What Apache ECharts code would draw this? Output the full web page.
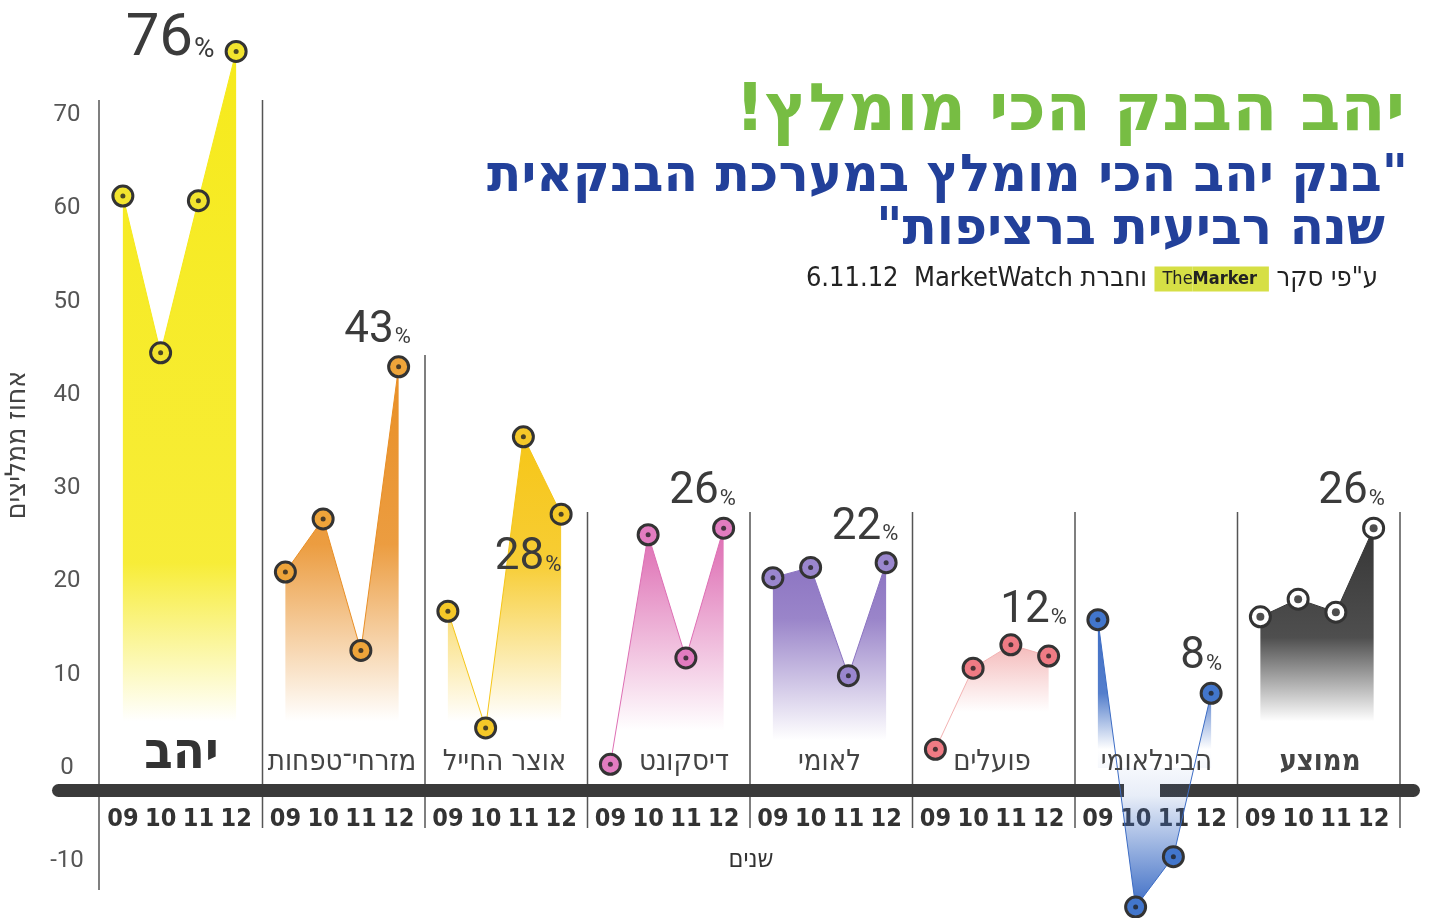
<!DOCTYPE html>
<html>
<head>
<meta charset="utf-8">
<title>יהב הבנק הכי מומלץ</title>
<script src="https://cdn.jsdelivr.net/npm/echarts@6/dist/echarts.min.js"></script>
<style>
  html, body { margin: 0; padding: 0; background: #fff; }
  #chart { width: 1433px; height: 918px; }
</style>
</head>
<body>
<div id="chart"></div>
<script>
// data (percent of respondents recommending, 2009-2012)
const years = ['09', '10', '11', '12']
const banks = ['יהב', 'מזרחי־טפחות', 'אוצר החייל', 'דיסקונט', 'לאומי', 'פועלים', 'הבינלאומי', 'ממוצע']
const yahav = [61.3, 44.5, 60.8, 76.8]
const mizrahi = [21.0, 26.7, 12.6, 43.0]
const otzar = [16.8, 4.3, 35.5, 27.2]
const discount = [0.4, 25.0, 11.8, 25.7]
const leumi = [20.4, 21.5, 9.9, 22.0]
const poalim = [2.0, 10.7, 13.2, 12.0]
const bainleumi = [15.9, -14.9, -9.5, 8.0]
const average = [16.2, 18.1, 16.7, 25.7]
const lastLabels = [76, 43, 28, 26, 22, 12, 8, 26]
const yTicks = [-10, 0, 10, 20, 30, 40, 50, 60, 70]

const values = [yahav, mizrahi, otzar, discount, leumi, poalim, bainleumi, average]

// look of each panel
const looks = [
  { area: '#f6ea1c', marker: '#f2e42e', solid: 22, fade: 5 },
  { area: '#e98f26', marker: '#eea43a', solid: 24, fade: 5 },
  { area: '#f6c618', marker: '#f5c828', solid: 22, fade: 5 },
  { area: '#de6fb4', marker: '#e27cc0', solid: 22, fade: 4 },
  { area: '#8c74c2', marker: '#9a86ce', solid: 16, fade: 3 },
  { area: '#f3b3b3', marker: '#ef7b84', solid: 13, fade: 6 },
  { area: '#3d6dc5', marker: '#4276cc', solid: 8, fade: 2 },
  { area: '#363636', marker: '#ffffff', solid: 14, fade: 5 },
]
// where the big "NN%" sits against the last point
const pctOffset = [[-66, -11], [-21, -36], [-33, 44], [-21, -36], [-21, -35], [-15, -45], [-10, -36], [-22, -36]]

const PANEL_X0 = 100
const PANEL_W = 162.5
const GRID_TOP = 21.6
const GRID_H = 933
const Y_MIN = -20
const Y_MAX = 80
// distance from the grid bottom up to the zero line, so the year labels hang under y=0
const ZERO_LIFT = GRID_H * (0 - Y_MIN) / (Y_MAX - Y_MIN)
const COND = '"DejaVu Sans Condensed", "DejaVu Sans", sans-serif'
const NUM = 'Roboto, "DejaVu Sans", sans-serif'

const measure = document.createElement('canvas').getContext('2d')
function fitScale(text, font, width) {
  measure.font = font
  return width / measure.measureText(text).width
}

function areaFill(vals, look) {
  const top = Math.max(...vals)
  const bottom = Math.min(0, ...vals)
  const f = (v) => Math.min(1, Math.max(0, (top - v) / (top - bottom)))
  const c = (a) => echarts.color.modifyAlpha(look.area, a)
  const stops = [
    { offset: 0, color: c(1) },
    { offset: f(look.solid), color: c(0.88) },
    { offset: f(look.fade), color: c(0) },
  ]
  if (bottom < 0) {
    stops.push({ offset: f(-3), color: c(0.12) })
    stops.push({ offset: 1, color: c(1) })
  } else {
    stops.push({ offset: 1, color: c(0) })
  }
  return new echarts.graphic.LinearGradient(0, 0, 0, 1, stops)
}

const grids = []
const xAxes = []
const yAxes = []
const series = []

banks.forEach((name, i) => {
  const look = looks[i]
  const big = i === 0
  grids.push({
    left: PANEL_X0 + 4 + i * PANEL_W, width: 151, top: GRID_TOP, height: GRID_H,
    containLabel: false, outerBoundsMode: 'none',
  })
  xAxes.push({
    gridIndex: i,
    type: 'category',
    data: years,
    position: 'bottom',
    offset: -ZERO_LIFT,
    axisLine: { show: false, onZero: false },
    axisTick: { show: false },
    axisLabel: { interval: 0, margin: 39, fontFamily: COND, fontWeight: 'bold', fontSize: 25, color: '#333' },
  })
  yAxes.push({
    gridIndex: i,
    type: 'value',
    min: Y_MIN,
    max: Y_MAX,
    interval: 10,
    splitLine: { show: false },
    axisLine: { show: false },
    axisTick: { show: false },
    axisLabel: i === 0
      ? { align: 'center', margin: 37, fontFamily: NUM, fontSize: 24, color: '#555',
          formatter: (v) => (yTicks.includes(v) ? String(v) : '') }
      : { show: false },
  })
  series.push({
    type: 'line',
    xAxisIndex: i,
    yAxisIndex: i,
    symbol: 'circle',
    symbolSize: 20,
    showAllSymbol: true,
    lineStyle: { color: look.area, width: 1 },
    itemStyle: { color: look.marker, borderColor: '#333', borderWidth: 3 },
    areaStyle: { origin: 0, color: areaFill(values[i], look), opacity: 1 },
    data: values[i].map((v, j) => j === 3
      ? {
          value: v,
          label: {
            show: true,
            position: 'inside',
            align: 'center',
            verticalAlign: 'middle',
            offset: pctOffset[i],
            formatter: `{n|${lastLabels[i]}}{p|%}`,
            rich: {
              n: { fontFamily: NUM, fontSize: big ? 60 : 44, color: '#3b3b3b', verticalAlign: 'bottom' },
              p: { fontFamily: NUM, fontSize: big ? 28 : 22, color: '#3b3b3b', verticalAlign: 'bottom',
                   padding: [0, 0, big ? 6 : 4, 1] },
            },
          },
        }
      : v),
    z: 3,
  })
  series.push({
    type: 'scatter',
    xAxisIndex: i,
    yAxisIndex: i,
    symbolSize: i === 7 ? 8 : 5,
    itemStyle: { color: '#222' },
    silent: true,
    data: values[i],
    z: 5,
  })
})

const graphics = []
// main vertical axis line and the panel separators
graphics.push({ type: 'line', shape: { x1: 99, y1: 100, x2: 99, y2: 890 }, style: { stroke: '#555', lineWidth: 1.5 } })
const sepTop = [100, 355, 512, 512, 512, 512, 512, 512]
sepTop.forEach((t, i) => {
  const x = PANEL_X0 + (i + 1) * PANEL_W
  graphics.push({ type: 'line', shape: { x1: x, y1: t, x2: x, y2: 828 }, style: { stroke: '#555', lineWidth: 1.5 } })
})
// the thick dark bar with a break where הבינלאומי dips below
graphics.push({ type: 'rect', shape: { x: 52, y: 784, width: 1072, height: 13, r: [6.5, 0, 0, 6.5] }, style: { fill: '#3a3a3a' }, z: 1 })
graphics.push({ type: 'rect', shape: { x: 1160, y: 784, width: 260, height: 13, r: [0, 6.5, 6.5, 0] }, style: { fill: '#3a3a3a' }, z: 1 })

// bank names
const nameShift = [2, 0, 0, 17, 0, 0, 2, 3]
banks.forEach((name, i) => {
  const bold = i === 0 || i === 7
  graphics.push({
    type: 'text',
    x: PANEL_X0 + 4 + i * PANEL_W + 75.5 + nameShift[i],
    y: i === 0 ? 754 : 762,
    style: {
      text: name,
      font: i === 0 ? `bold 52px ${COND}` : `${bold ? 'bold ' : ''}29px ${COND}`,
      fill: i === 0 ? '#333' : '#444',
      align: 'center',
      verticalAlign: 'middle',
    },
    z: 10,
  })
})

// axis names
graphics.push({
  type: 'text', x: 18, y: 445, rotation: Math.PI / 2,
  style: { text: 'אחוז ממליצים', font: `28px ${COND}`, fill: '#444', align: 'center', verticalAlign: 'middle' },
})
graphics.push({
  type: 'text', x: 751, y: 860,
  style: { text: 'שנים', font: `25px ${COND}`, fill: '#333', align: 'center', verticalAlign: 'middle' },
})

// headline
const RLE = '\u202B'
const PDF = '\u202C'
const head = RLE + 'יהב הבנק הכי מומלץ!' + PDF
const headFont = 'bold 66px "DejaVu Sans", sans-serif'
graphics.push({
  type: 'text', x: 1405, y: 113, scaleX: fitScale(head, headFont, 670),
  style: { text: head, font: headFont, fill: '#77bd43', align: 'right', verticalAlign: 'middle' },
})
const sub1 = RLE + '"בנק יהב הכי מומלץ במערכת הבנקאית' + PDF
const sub2 = RLE + 'שנה רביעית ברציפות"' + PDF
const subFont = 'bold 52px "DejaVu Sans", sans-serif'
const subScale = fitScale(sub1, subFont, 921)
graphics.push({
  type: 'text', x: 1408, y: 177, scaleX: subScale,
  style: { text: sub1, font: subFont, fill: '#22409a', align: 'right', verticalAlign: 'middle' },
})
graphics.push({
  type: 'text', x: 1385, y: 230, scaleX: subScale,
  style: { text: sub2, font: subFont, fill: '#22409a', align: 'right', verticalAlign: 'middle' },
})
graphics.push({
  type: 'text', x: 1378, y: 279,
  style: {
    text: '{t|6.11.12  MarketWatch וחברת }{m1|The}{m2|Marker}{t| ע"פי סקר}',
    align: 'right',
    verticalAlign: 'middle',
    rich: {
      t: { font: `27px ${COND}`, fill: '#222' },
      m1: { font: `18px ${COND}`, fill: '#222', backgroundColor: '#d6df45', padding: [4, 0, 3, 8] },
      m2: { font: `bold 18px ${COND}`, fill: '#222', backgroundColor: '#d6df45', padding: [4, 12, 3, 0] },
    },
  },
})

const myChart = echarts.init(document.getElementById('chart'))
myChart.setOption({
  animation: false,
  backgroundColor: '#fff',
  grid: grids,
  xAxis: xAxes,
  yAxis: yAxes,
  series: series,
  graphic: { elements: graphics },
})
</script>
</body>
</html>
